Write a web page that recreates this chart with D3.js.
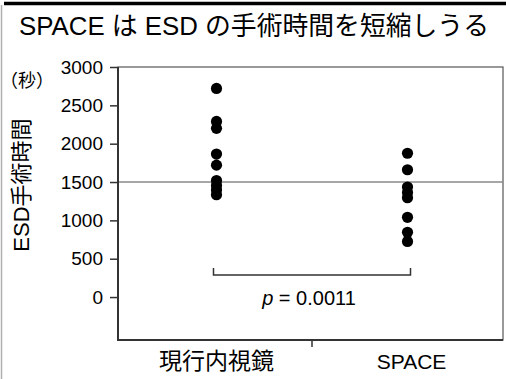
<!DOCTYPE html>
<html><head><meta charset="utf-8">
<script src="https://cdn.jsdelivr.net/npm/d3@7"></script>
<style>
html,body{margin:0;padding:0;background:#fff;}
svg text{font-family:"Liberation Sans",Arial,"Noto Sans CJK JP",sans-serif;fill:#000;}
</style></head>
<body>
<svg id="chart" width="506" height="379"></svg>
<script>
const titleText = "SPACE は ESD の手術時間を短縮しうる";
const yLabel = "ESD手術時間";
const unitLabel = "（秒）";
const categories = ["現行内視鏡", "SPACE"];
const conventional = [2720, 2290, 2200, 1865, 1720, 1520, 1455, 1395, 1335];
const space = [1875, 1660, 1435, 1365, 1295, 1040, 845, 725];
const yTicks = [0, 500, 1000, 1500, 2000, 2500, 3000];
const refValue = 1500;
const pText = "= 0.0011";

const svg = d3.select("#chart");
const L = 118, R = 503, T = 67, B = 340;

// frame
svg.append("line").attr("x1", 4).attr("x2", 506).attr("y1", 3.5).attr("y2", 3.5)
  .attr("stroke", "#000").attr("stroke-width", 3.5);
svg.append("line").attr("x1", 1.5).attr("x2", 1.5).attr("y1", 5).attr("y2", 379)
  .attr("stroke", "#b0b0b0").attr("stroke-width", 1.5);

// title
svg.append("text").attr("x", 254).attr("y", 35).attr("text-anchor", "middle")
  .attr("font-size", 26).attr("textLength", 470).attr("lengthAdjust", "spacingAndGlyphs")
  .text(titleText);

const x = d3.scaleBand().domain(categories).range([121, 503]);
const y = d3.scaleLinear().domain([-560, 3000]).range([B, T]);

// box
svg.append("rect").attr("x", L).attr("y", T).attr("width", R - L).attr("height", B - T)
  .attr("fill", "none").attr("stroke", "#555").attr("stroke-width", 1.2);

// reference line
svg.append("line").attr("x1", L).attr("x2", R).attr("y1", y(refValue)).attr("y2", y(refValue))
  .attr("stroke", "#8a8a8a").attr("stroke-width", 1.5);

// y axis
const yAxis = svg.append("g").attr("transform", `translate(${L},0)`)
  .call(d3.axisLeft(y).tickValues(yTicks).tickFormat(d3.format("d"))
    .tickSize(8).tickPadding(7).tickSizeOuter(0));
yAxis.select(".domain").attr("stroke", "#333").attr("stroke-width", 2)
  .attr("d", `M0,${T}V${B}`);
yAxis.selectAll(".tick line").attr("stroke", "#333").attr("stroke-width", 1.5);
yAxis.selectAll(".tick text").attr("font-size", 19).attr("fill", "#000")
  .style("font-family", '"Liberation Sans",Arial,sans-serif');

// x axis bottom
svg.append("line").attr("x1", L - 1).attr("x2", R).attr("y1", B).attr("y2", B)
  .attr("stroke", "#333").attr("stroke-width", 2);
const mid = x(categories[1]);
svg.append("line").attr("x1", mid).attr("x2", mid).attr("y1", B).attr("y2", B + 7)
  .attr("stroke", "#333").attr("stroke-width", 1.5);
svg.selectAll(".cat").data(categories).join("text").attr("class", "cat")
  .attr("x", d => x(d) + x.bandwidth() / 2 + (d === "SPACE" ? 4 : 0)).attr("y", 369)
  .attr("text-anchor", "middle").attr("font-size", d => d === "SPACE" ? 21 : 23).text(d => d);

// dots
const groups = [conventional, space];
groups.forEach((vals, i) => {
  const cx = x(categories[i]) + x.bandwidth() / 2;
  svg.append("g").selectAll("circle").data(vals).join("circle")
    .attr("cx", cx).attr("cy", d => y(d)).attr("r", 5.6).attr("fill", "#000");
});

// bracket
const c1 = x(categories[0]) + x.bandwidth() / 2 - 3;
const c2 = x(categories[1]) + x.bandwidth() / 2 + 3;
svg.append("path").attr("d", `M${c1},268V275H${c2}V268`).attr("fill", "none")
  .attr("stroke", "#333").attr("stroke-width", 1.5);
const pt = svg.append("text").attr("x", (c1 + c2) / 2 - 3).attr("y", 305).attr("text-anchor", "middle")
  .attr("font-size", 20);
pt.append("tspan").attr("font-style", "italic").text("p");
pt.append("tspan").text(" " + pText);

// y label
svg.append("text").attr("transform", "translate(29,185) rotate(-90)").attr("text-anchor", "middle")
  .attr("font-size", 22).text(yLabel);
svg.append("text").attr("x", 27).attr("y", 87).attr("text-anchor", "middle")
  .attr("font-size", 18).text(unitLabel);
</script>
</body></html>
